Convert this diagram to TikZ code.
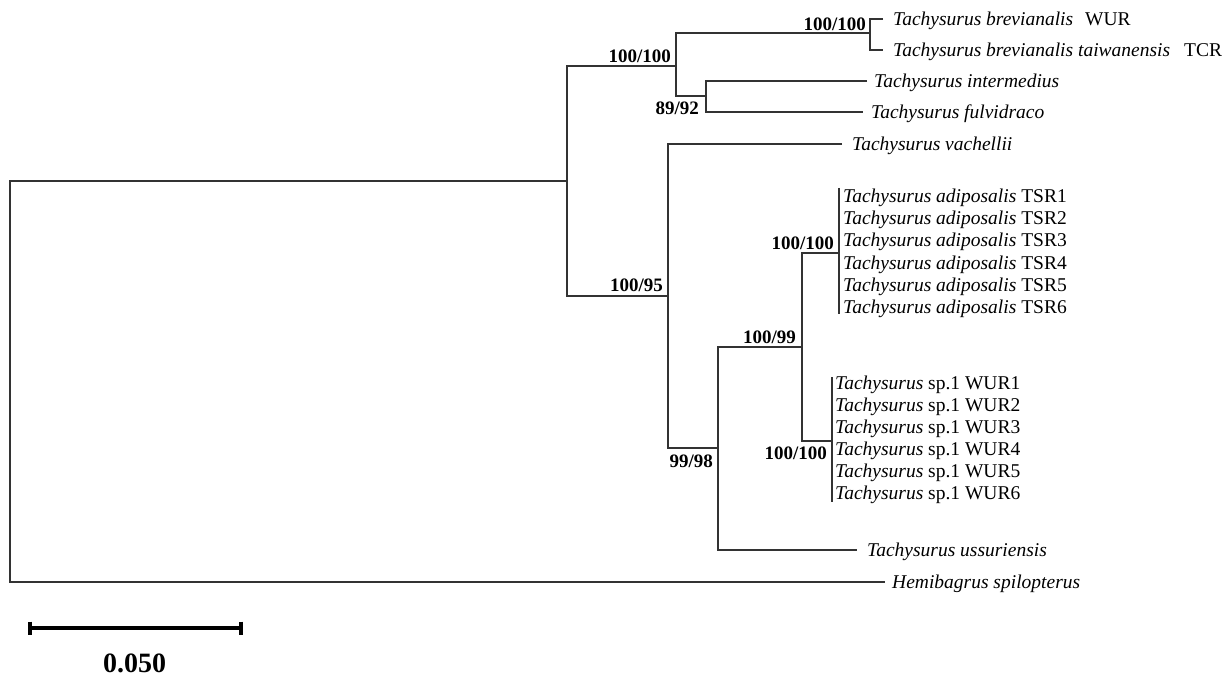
\documentclass[tikz,border=0pt]{standalone}
\usepackage{fontspec}
\setmainfont{Liberation Serif}
\begin{document}
\begin{tikzpicture}[x=1pt,y=-1pt,
  br/.style={line width=1.2pt, draw=black!80},
  leaf/.style={anchor=west, inner sep=0pt, font=\fontsize{19.5}{22}\selectfont, text height=13pt, text depth=0pt},
  supp/.style={anchor=east, inner sep=0pt, font=\fontsize{19}{22}\selectfont\bfseries, text height=13pt, text depth=0pt},
  sbar/.style={line width=4pt, draw=black}]
\useasboundingbox (0,0) rectangle (1231,679);
% internal nodes
\coordinate (R) at (10,381);
\coordinate (A) at (567,181);
\coordinate (B) at (676,66);
\coordinate (Bv) at (870,33);
\coordinate (C) at (706,96);
\coordinate (D) at (668,296);
\coordinate (F) at (718,448);
\coordinate (E) at (802,347);
\coordinate (T) at (839,253);
\coordinate (W) at (832,441);
% leaves
\node[leaf] (brev) at (893,19) {\textit{Tachysurus brevianalis}\hskip 12pt WUR};
\node[leaf] (taiw) at (893,50) {\textit{Tachysurus brevianalis taiwanensis}\hskip 14pt TCR};
\node[leaf] (intm) at (874,81) {\textit{Tachysurus intermedius}};
\node[leaf] (fulv) at (871,112) {\textit{Tachysurus fulvidraco}};
\node[leaf] (vach) at (852,144) {\textit{Tachysurus vachellii}};
\foreach \i in {1,...,6}
  \node[leaf] (tsr\i) at (843,{196+22.2*(\i-1)}) {\textit{Tachysurus adiposalis} TSR\i};
\foreach \i in {1,...,6}
  \node[leaf] (wur\i) at (835,{383+22*(\i-1)}) {\textit{Tachysurus} sp.1 WUR\i};
\node[leaf] (ussu) at (867,550) {\textit{Tachysurus ussuriensis}};
\node[leaf] (hemi) at (892,582) {\textit{Hemibagrus spilopterus}};
% branches
\draw[br] (A) -| (R) |- ([xshift=-7pt]hemi.west);
\draw[br] (B) -| (A) |- (D);
\draw[br] (Bv) -| (B) |- (C);
\draw[br] ([xshift=-10pt]brev.west) -| (Bv) |- ([xshift=-10pt]taiw.west);
\draw[br] ([xshift=-7pt]intm.west) -| (C) |- ([xshift=-8pt]fulv.west);
\draw[br] ([xshift=-10pt]vach.west) -| (D) |- (F);
\draw[br] (E) -| (F) |- ([xshift=-10pt]ussu.west);
\draw[br] (T) -| (E) |- (W);
\draw[br] ([shift={(-4pt,8pt)}]tsr1.west) -- ([shift={(-4pt,-7pt)}]tsr6.west);
\draw[br] ([shift={(-3pt,6pt)}]wur1.west) -- ([shift={(-3pt,-9pt)}]wur6.west);
% support values
\node[supp] (s1) at (866,24) {100/100};
\node[supp] (s2) at (671,56) {100/100};
\node[supp] (s3) at (699,108) {89/92};
\node[supp] (s4) at (663,285) {100/95};
\node[supp] (s5) at (834,243) {100/100};
\node[supp] (s6) at (796,337) {100/99};
\node[supp] (s7) at (713,461) {99/98};
\node[supp] (s8) at (827,453) {100/100};
% scale bar
\coordinate (sbL) at (30,628);
\coordinate (sbR) at (241,628);
\draw[sbar] (sbL) -- (sbR);
\draw[sbar] ([yshift=6.5pt]sbL) -- ([yshift=-6.5pt]sbL);
\draw[sbar] ([yshift=6.5pt]sbR) -- ([yshift=-6.5pt]sbR);
\node[inner sep=0pt, font=\fontsize{28}{30}\selectfont\bfseries, text height=19pt, text depth=0pt] (sblab) at (134.5,663) {0.050};
\end{tikzpicture}
\end{document}
